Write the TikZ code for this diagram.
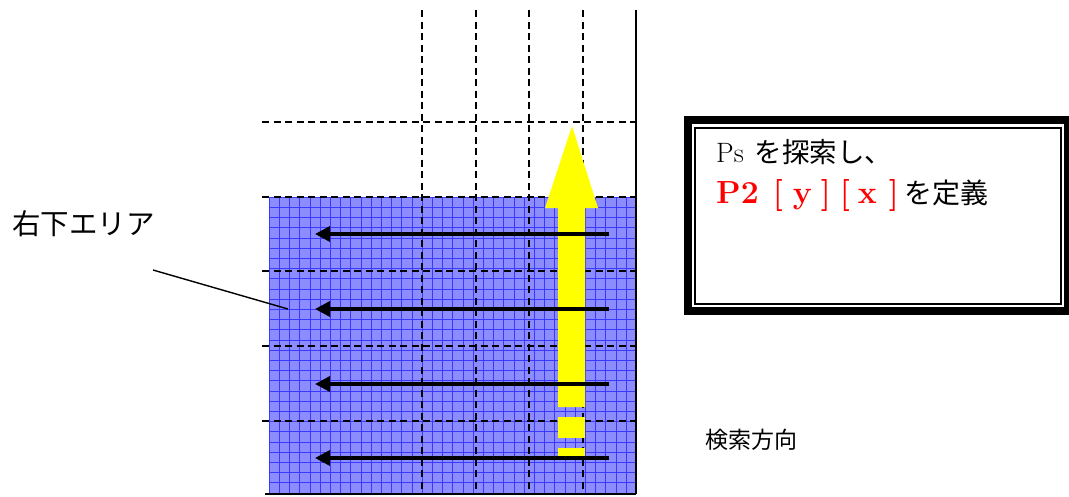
\documentclass[tikz,border=0pt]{standalone}
\usepackage{fontspec}
\newfontfamily\jpfont{Noto Sans CJK JP}
\usetikzlibrary{arrows.meta}
\definecolor{AreaBlue}{HTML}{8C8CFF}
\definecolor{GridBlue}{HTML}{3A3AFF}
\definecolor{ScanYellow}{HTML}{FFFF00}
\definecolor{DefRed}{HTML}{FF0000}
\definecolor{Ink}{HTML}{000000}

\begin{document}
\begin{tikzpicture}[x=1pt,y=-1pt,every node/.style={text=Ink,inner sep=0pt},cell/.style={Ink,line width=1.7pt,dash pattern=on 7pt off 4.5pt},wall/.style={Ink,line width=1.5pt},scan/.style={Ink,line width=3.5pt,-{Triangle[length=15pt,width=15pt]}},defframe/.style={draw=Ink,line width=8pt,outer sep=0pt,minimum width=380pt,minimum height=191pt}]
\useasboundingbox (0,0) rectangle (1069,496);
\fill[white] (0,0) rectangle (1069,496);
% lower right area
\fill[AreaBlue] (269,197) rectangle (636,494);
\begin{scope}[shift={(269,197)}]
  \draw[GridBlue,line width=0.6pt,step=10.2pt] (0,0) grid (367,297);
\end{scope}
\foreach \x in {422,476,529,583}{\draw[cell] (\x,10) -- (\x,494);}
\foreach \y in {122,197,271,346,421}{\draw[cell] (262,\y) -- (636,\y);}
% search direction
\fill[ScanYellow] (558,407) -- (558,208) -- (545,208) -- (572,126) -- (598,208) -- (585,208) -- (585,407) -- cycle;
\fill[ScanYellow] (558,417) rectangle (585,438);
\fill[ScanYellow] (558,448) rectangle (585,458);
\foreach \i/\y in {1/234,2/309,3/384,4/458}{
  \coordinate (scanR\i) at (609,\y);
  \coordinate (scanL\i) at (315,\y);
  \draw[scan] (scanR\i) -- (scanL\i);
}
\draw[wall] (636,10) -- (636,494);
\draw[wall] (265,494) -- (636,494);
% labels
\node[anchor=west,font=\jpfont\fontsize{28.5}{32}\selectfont] (arealabel) at (12,224) {右下エリア};
\coordinate (areatail) at (153,270);
\coordinate (areapt) at (288,309);
\draw[Ink,line width=1.4pt] (areatail) -- (areapt);
\node[anchor=west,font=\jpfont\fontsize{23}{27}\selectfont] (scandir) at (705,440) {検索方向};
% definition box
\node[defframe] (defbox) at (878,215.5) {};
\draw[Ink,line width=1.3pt] ([xshift=7pt,yshift=-8pt]defbox.north west) rectangle ([xshift=-7pt,yshift=7pt]defbox.south east);
\node[anchor=base west,font=\fontsize{28}{32}\selectfont] (defline1) at (716,162) {Ps\hspace{11pt}{\jpfont\fontsize{27.5}{30}\selectfont を探索し、}};
\node[anchor=base west] (defline2) at (716,203) {\textcolor{DefRed}{\fontsize{32}{36}\selectfont\bfseries P2\hspace{14pt}[\hspace{10pt}y\hspace{9pt}]\hspace{9pt}[\hspace{8pt}x\hspace{12pt}]}\hspace{6pt}{\jpfont\fontsize{28}{30}\selectfont を定義}};
\end{tikzpicture}
\end{document}
